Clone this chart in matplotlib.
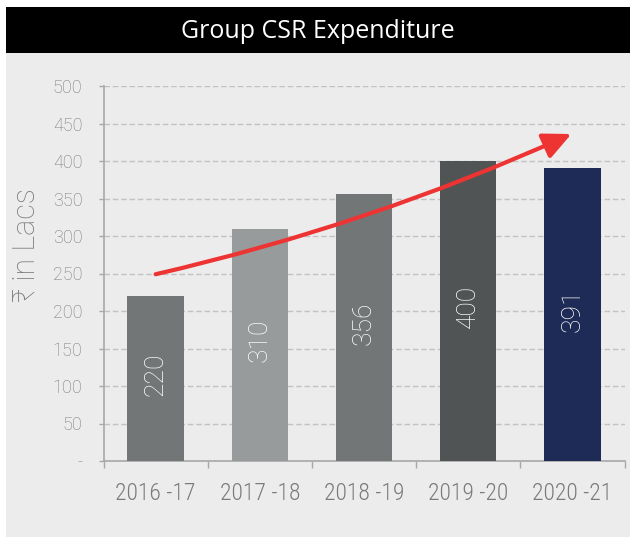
import matplotlib
matplotlib.use('Agg')
import matplotlib.pyplot as plt
from matplotlib.patches import Rectangle

# ---------------- data ----------------
categories = ['2016 -17', '2017 -18', '2018 -19', '2019 -20', '2020 -21']
values = [220, 310, 356, 400, 391]
bar_colors = ['#737677', '#989b9c', '#737677', '#515455', '#1e2b57']
ytick_values = [0, 50, 100, 150, 200, 250, 300, 350, 400, 450, 500]
ytick_labels = ['-', '50', '100', '150', '200', '250', '300', '350', '400', '450', '500']
title = 'Group CSR Expenditure'
ylabel = '₹ in Lacs'
trend_start = (0.0, 249)
trend_end = (3.99, 436)

# ---------------- fonts ----------------
body_font = ['Roboto', 'DejaVu Sans']
cond_font = ['Roboto Condensed', 'DejaVu Sans']
title_font = ['Open Sans', 'DejaVu Sans']
label_color = '#7a7a7a'

W, H = 630, 537
fig = plt.figure(figsize=(W / 100, H / 100), dpi=100)
fig.patch.set_facecolor('white')

# background panel and title bar
fig.patches.append(Rectangle((6 / W, 0), 1 - 6 / W, (H - 53) / H, transform=fig.transFigure,
                             facecolor='#ececec', edgecolor='none', zorder=-2))
fig.patches.append(Rectangle((6 / W, (H - 53) / H), 1 - 6 / W, 46 / H, transform=fig.transFigure,
                             facecolor='black', edgecolor='none', zorder=-2))
fig.text((6 + W) / 2 / W, 1 - 31 / H, title, color='white', fontsize=18,
         family=title_font, ha='center', va='center')

ax = fig.add_axes([103.5 / W, (H - 461) / H, (624.5 - 103.5) / W, (461 - 86) / H])
ax.set_zorder(1)
ax.set_facecolor('none')
x = list(range(len(categories)))
ax.bar(x, values, width=0.54, color=bar_colors, zorder=3)
ax.set_xlim(-0.5, len(categories) - 0.5)
ax.set_ylim(0, 500)

for s in ['top', 'right']:
    ax.spines[s].set_visible(False)
for s in ['left', 'bottom']:
    ax.spines[s].set_color('#a8a8a8')
    ax.spines[s].set_linewidth(1.2)

ax.set_yticks(ytick_values)
ax.set_yticklabels(ytick_labels)
ax.tick_params(axis='y', direction='out', length=3.6, width=1, color='#a8a8a8',
               labelcolor=label_color, labelsize=13, pad=11.5)
for t in ax.get_yticklabels():
    t.set_family(body_font)
    t.set_fontweight('light')

ax.set_xticks(x)
ax.set_xticklabels(categories)
ax.set_xticks([i - 0.5 for i in range(len(categories) + 1)], minor=True)
ax.tick_params(axis='x', which='major', length=0, labelcolor=label_color, labelsize=17, pad=15)
ax.tick_params(axis='x', which='minor', direction='out', length=5, width=1, color='#a8a8a8')
for t in ax.get_xticklabels():
    t.set_family(cond_font)
    t.set_fontweight('light')

ax.yaxis.grid(True, linestyle=(0, (4, 2)), color='#c2c2c2', linewidth=1.0, zorder=0)
ax.set_axisbelow(True)

fig.text(26 / W, 1 - 245 / H, ylabel, rotation=90, ha='center', va='center',
         color=label_color, fontsize=22, family=body_font, fontweight='light')

for xi, v in zip(x, values):
    ax.text(xi, v / 2 + 6, str(v), rotation=90, ha='center', va='center', color='white',
            fontsize=19, family=body_font, fontweight='light', zorder=4)

ax.annotate('', xy=trend_end, xytext=trend_start,
            arrowprops=dict(arrowstyle='-|>,head_length=0.85,head_width=0.4', mutation_scale=20,
                            color='#ee3333', lw=3.0, shrinkA=0, shrinkB=0,
                            connectionstyle='arc3,rad=0.05'), zorder=5)

fig.savefig('out.png', dpi=100)
